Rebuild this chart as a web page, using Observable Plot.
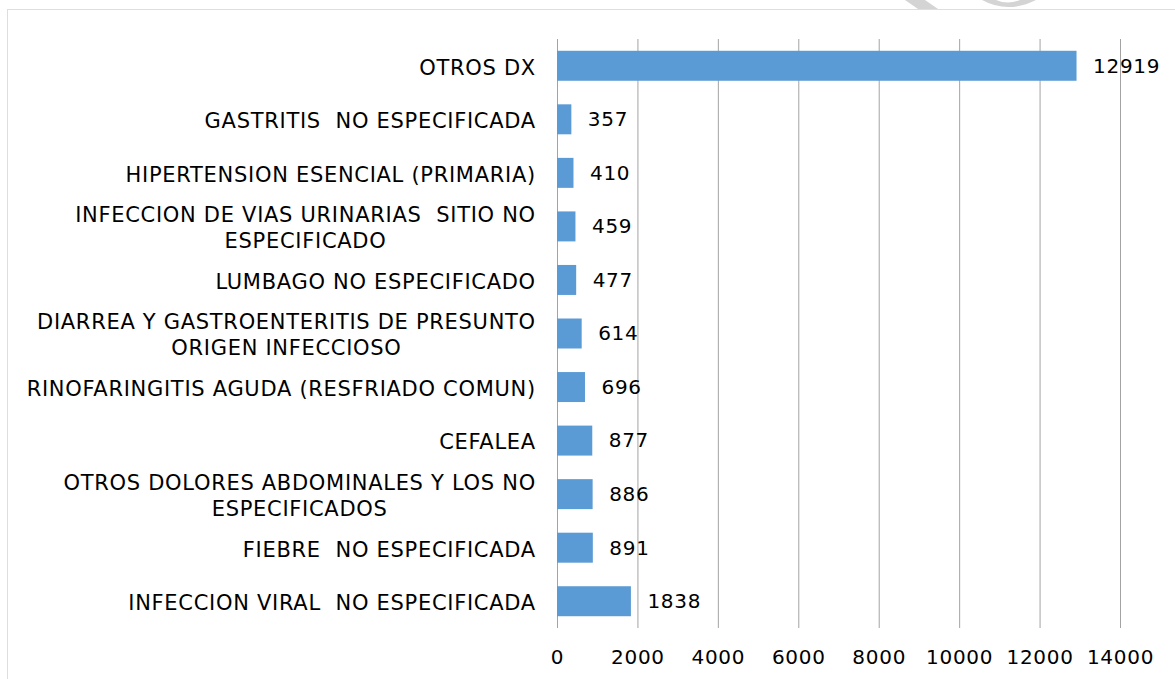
<!DOCTYPE html>
<html>
<head>
<meta charset="utf-8">
<script src="https://cdn.jsdelivr.net/npm/d3@7"></script>
<script src="https://cdn.jsdelivr.net/npm/@observablehq/plot@0.6"></script>
<style>
  html, body { margin: 0; padding: 0; background: #fff; }
  #wrap { position: relative; width: 1175px; height: 679px; overflow: hidden; }
  #frame { position: absolute; left: 7px; top: 9px; width: 1200px; height: 700px; border: 1px solid #dedede; box-sizing: border-box; }
  #wm { position: absolute; left: 0; top: 0; }
  #chart { position: absolute; left: 0; top: 0; }
  #chart svg { white-space: pre; letter-spacing: 0.7px; }
</style>
</head>
<body>
<div id="wrap">
  <svg id="wm" width="1175" height="20">
    <path d="M905,0 L925,0 L938,9 L918,9 Z" fill="#d4d4d4"/>
    <path d="M982,0 Q1008,14 1036,0 L1020,0 Q1008,5 996,0 Z" fill="#d4d4d4"/>
  </svg>
  <div id="frame"></div>
  <div id="chart"></div>
</div>
<script>
const categories = [
  "OTROS DX",
  "GASTRITIS  NO ESPECIFICADA",
  "HIPERTENSION ESENCIAL (PRIMARIA)",
  "INFECCION DE VIAS URINARIAS  SITIO NO\nESPECIFICADO",
  "LUMBAGO NO ESPECIFICADO",
  "DIARREA Y GASTROENTERITIS DE PRESUNTO\nORIGEN INFECCIOSO",
  "RINOFARINGITIS AGUDA (RESFRIADO COMUN)",
  "CEFALEA",
  "OTROS DOLORES ABDOMINALES Y LOS NO\nESPECIFICADOS",
  "FIEBRE  NO ESPECIFICADA",
  "INFECCION VIRAL  NO ESPECIFICADA"
];
const values = [12919, 357, 410, 459, 477, 614, 696, 877, 886, 891, 1838];
const xTicks = [0, 2000, 4000, 6000, 8000, 10000, 12000, 14000];

const data = categories.map((c, i) => ({cat: c, value: values[i]}));

const FONT = "DejaVu Sans";
const labelSize = 21;
const LS = 0.7;
const canvas = document.createElement("canvas");
const ctx = canvas.getContext("2d");
ctx.font = `${labelSize}px "${FONT}"`;
const gap = 22;
const measure = s => ctx.measureText(s).width + LS * s.length;

const labelMarks = data.map(d => {
  const lines = d.cat.split("\n");
  const w = Math.max(...lines.map(measure));
  return Plot.text([d], {
    x: () => 0, y: "cat", text: "cat",
    textAnchor: "middle", lineAnchor: "middle", lineHeight: 1.24,
    dx: -gap - w / 2 + LS / 2,
    fontSize: labelSize, fill: "#000"
  });
});

const chart = Plot.plot({
  width: 1175,
  height: 679,
  marginLeft: 557,
  marginRight: 55,
  marginTop: 39,
  marginBottom: 51,
  style: {fontFamily: FONT, background: "transparent", overflow: "visible"},
  x: {domain: [0, 14000], ticks: xTicks, axis: null, label: null},
  y: {domain: categories, paddingInner: 0.44, paddingOuter: 0.22, round: false, axis: null, label: null},
  marks: [
    Plot.ruleX(xTicks, {stroke: "#a3a3a3", strokeWidth: 1}),
    Plot.barX(data, {x: "value", y: "cat", fill: "#5B9BD5"}),
    Plot.text(data, {x: "value", y: "cat", text: d => String(d.value), textAnchor: "start", dx: 16, fontSize: 20, fill: "#000"}),
    ...labelMarks,
    Plot.axisX(xTicks, {tickSize: 0, tickPadding: 21, fontSize: 20, color: "#000", label: null, tickFormat: d => String(d)})
  ]
});
document.getElementById("chart").appendChild(chart);
</script>
</body>
</html>
